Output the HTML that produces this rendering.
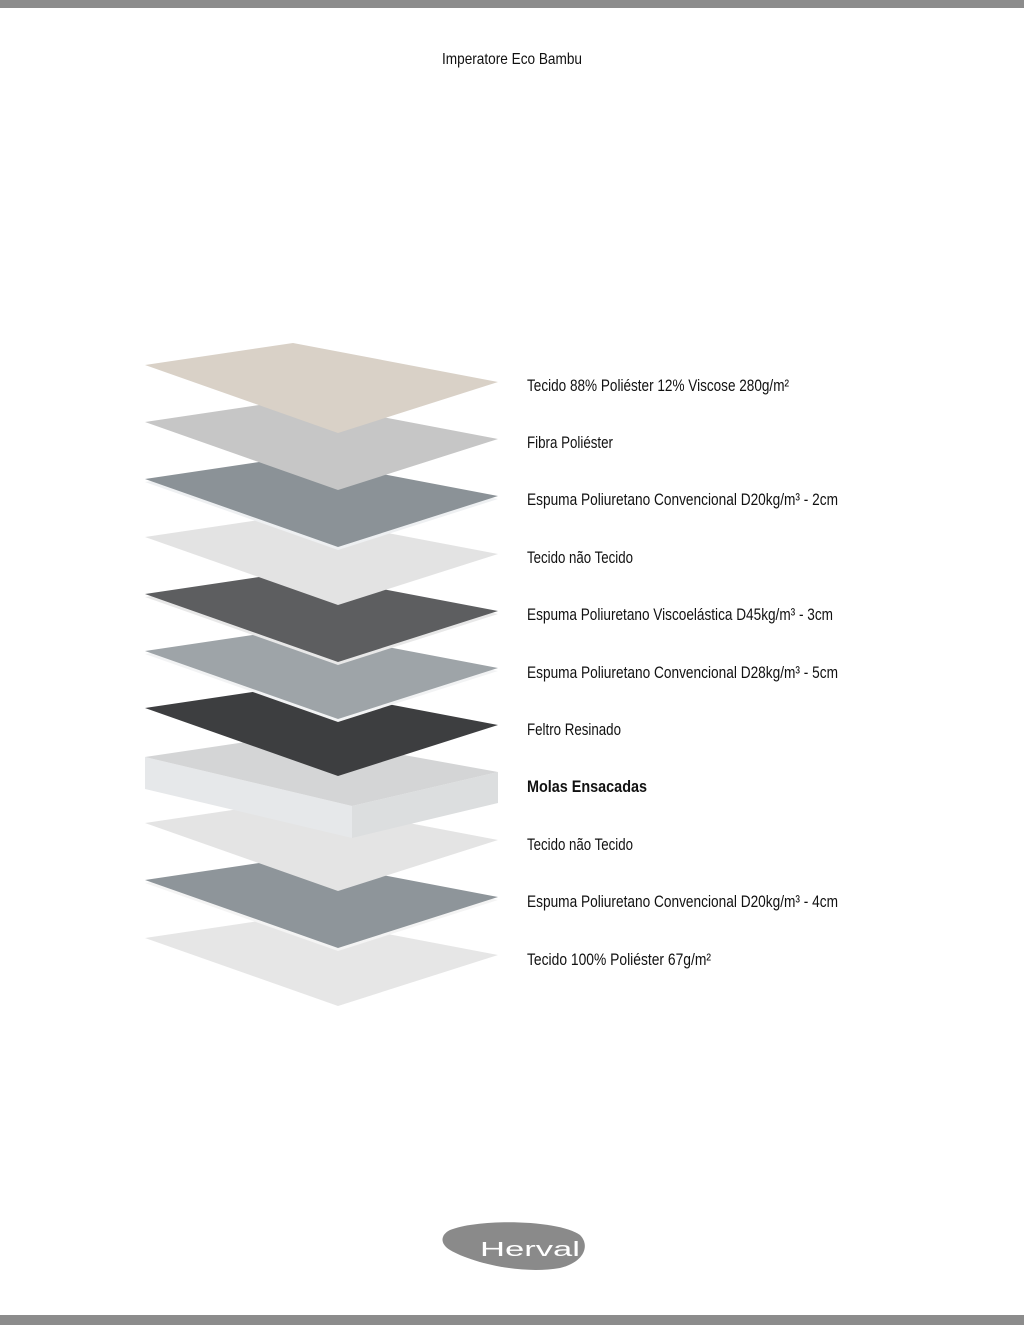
<!DOCTYPE html>
<html><head><meta charset="utf-8"><style>
html,body{margin:0;padding:0;background:#fff;}
svg{display:block}
</style></head><body>
<svg width="1024" height="1325" viewBox="0 0 1024 1325" xmlns="http://www.w3.org/2000/svg" font-family="Liberation Sans, sans-serif">
<rect x="0" y="0" width="1024" height="8" fill="#8c8c8c"/>
<rect x="0" y="1315" width="1024" height="10" fill="#8c8c8c"/>
<text x="442" y="64" font-size="16" fill="#111" textLength="140" lengthAdjust="spacingAndGlyphs">Imperatore Eco Bambu</text>

<g>
<polygon points="145,938 293,916 498,955 338,1006" fill="#e6e6e6"/>
<polygon points="145,883 293,861 498,900 338,951" fill="#f4f4f4"/>
<polygon points="145,880 293,858 498,897 338,948" fill="#8e959a"/>
<polygon points="145,823 293,801 498,840 338,891" fill="#e4e4e4"/>
<polygon points="145,757 145,789 352,838 352,806" fill="#e6e8ea"/>
<polygon points="352,806 498,772 498,803 352,838" fill="#dcdedf"/>
<polygon points="145,757 293,735 498,772 352,806" fill="#d4d5d6"/>
<polygon points="145,708 293,686 498,725 338,776" fill="#3d3e40"/>
<polygon points="145,654 293,632 498,671 338,722" fill="#f2f3f4"/>
<polygon points="145,651 293,629 498,668 338,719" fill="#9ea4a8"/>
<polygon points="145,597 293,575 498,614 338,665" fill="#e8e8e8"/>
<polygon points="145,594 293,572 498,611 338,662" fill="#5d5e60"/>
<polygon points="145,537 293,515 498,554 338,605" fill="#e3e3e3"/>
<polygon points="145,482 293,460 498,499 338,550" fill="#eef0f2"/>
<polygon points="145,479 293,457 498,496 338,547" fill="#8b9297"/>
<polygon points="145,422 293,400 498,439 338,490" fill="#c6c6c6"/>
<polygon points="145,365 293,343 498,382 338,433" fill="#d9d1c7"/>
</g>

<g font-size="17" fill="#111">
<text x="527" y="391" textLength="262" lengthAdjust="spacingAndGlyphs">Tecido 88% Poliéster 12% Viscose 280g/m²</text>
<text x="527" y="448" textLength="86" lengthAdjust="spacingAndGlyphs">Fibra Poliéster</text>
<text x="527" y="505" textLength="311" lengthAdjust="spacingAndGlyphs">Espuma Poliuretano Convencional D20kg/m³ - 2cm</text>
<text x="527" y="563" textLength="106" lengthAdjust="spacingAndGlyphs">Tecido não Tecido</text>
<text x="527" y="620" textLength="306" lengthAdjust="spacingAndGlyphs">Espuma Poliuretano Viscoelástica D45kg/m³ - 3cm</text>
<text x="527" y="678" textLength="311" lengthAdjust="spacingAndGlyphs">Espuma Poliuretano Convencional D28kg/m³ - 5cm</text>
<text x="527" y="735" textLength="94" lengthAdjust="spacingAndGlyphs">Feltro Resinado</text>
<text x="527" y="792" textLength="120" lengthAdjust="spacingAndGlyphs" font-weight="bold">Molas Ensacadas</text>
<text x="527" y="850" textLength="106" lengthAdjust="spacingAndGlyphs">Tecido não Tecido</text>
<text x="527" y="907" textLength="311" lengthAdjust="spacingAndGlyphs">Espuma Poliuretano Convencional D20kg/m³ - 4cm</text>
<text x="527" y="965" textLength="184" lengthAdjust="spacingAndGlyphs">Tecido 100% Poliéster 67g/m²</text>
</g>

<path d="M450,1230 C480,1218 560,1220 580,1235 C590,1245 585,1262 560,1268 C520,1275 470,1262 450,1250 C440,1244 440,1235 450,1230 Z" fill="#8a8a8a"/>
<text x="480" y="1256" font-size="20" fill="#fff" textLength="100" lengthAdjust="spacingAndGlyphs">Herval</text>
</svg>
</body></html>
